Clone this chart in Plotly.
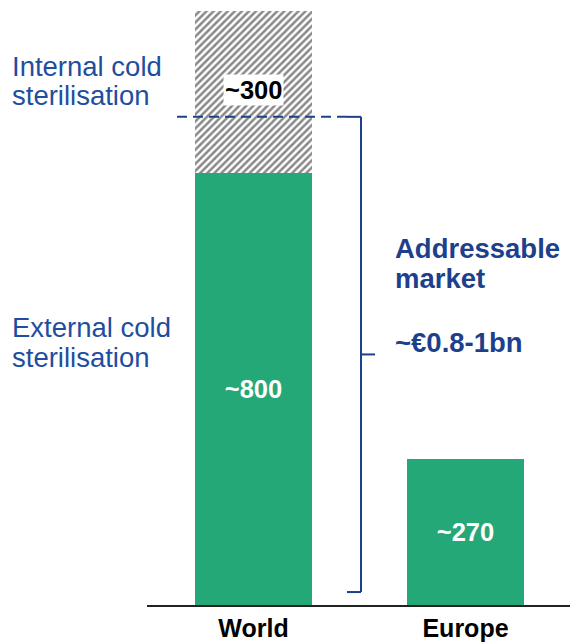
import plotly.graph_objects as go

# Market size (EUR m)
regions = ["World", "Europe"]
external_cold = [800, 270]
internal_cold = [300, None]
external_labels = ["~800", "~270"]
internal_labels = ["~300", ""]

# Addressable-market bracket levels (value axis units)
bracket_top = 904
bracket_bottom = 24

GREEN = "#25A878"
BLUE = "#1D3F8C"
TEXT_BLUE = "#1F4E9E"
FONT = "Liberation Sans, Arial"

# Plot-area geometry in pixels (used to place overlay text in paper coordinates)
W, H = 570, 644
L, B = 147, 39
PW, PH = W - L, H - B


def px(xpix):
    return (xpix - L) / PW


def py(ypix):
    return 1 - ypix / PH


fig = go.Figure()

fig.add_trace(go.Bar(
    x=[0, 1], y=external_cold, width=0.552,
    marker=dict(color=GREEN, line=dict(width=0)),
    text=external_labels, textposition="inside", insidetextanchor="middle",
    textfont=dict(family=FONT, size=25.5, color="white", weight="bold"),
    hoverinfo="skip",
))

fig.add_trace(go.Bar(
    x=[0], y=internal_cold[:1], width=0.552,
    marker=dict(color="white", line=dict(width=0),
                pattern=dict(shape="/", fgcolor="#111111", bgcolor="white",
                             size=5, solidity=0.5)),
    hoverinfo="skip",
))

# "~300" tag on a white box over the hatching
fig.add_annotation(
    x=0, y=external_cold[0] + internal_cold[0] * 0.51, xref="x", yref="y",
    text="<b>" + internal_labels[0] + "</b>", showarrow=False,
    font=dict(family=FONT, size=25.5, color="black"),
    bgcolor="white", borderpad=1,
)

# Dashed separator at the top of the addressable range
fig.add_shape(type="line", xref="paper", yref="y",
              x0=px(177), x1=px(347),
              y0=bracket_top, y1=bracket_top,
              line=dict(color=BLUE, width=2, dash="10px,6px"))

# Bracket
bx = px(361)
hook = 14 / PW
tick = 14 / PW
mid = (bracket_top + bracket_bottom) / 2
bracket_lines = [
    (bx - hook, bracket_top, bx, bracket_top),
    (bx, bracket_top, bx, bracket_bottom),
    (bx - hook, bracket_bottom, bx, bracket_bottom),
    (bx, mid, bx + tick, mid),
]
for x0, y0, x1, y1 in bracket_lines:
    fig.add_shape(type="line", xref="paper", yref="y",
                  x0=x0, x1=x1, y0=y0, y1=y1,
                  line=dict(color=BLUE, width=2))


def text_line(txt, xpix, ypix, color, bold=False, size=27.5):
    fig.add_annotation(
        x=px(xpix), y=py(ypix), xref="paper", yref="paper",
        xanchor="left", yanchor="middle", align="left",
        text=("<b>%s</b>" % txt) if bold else txt, showarrow=False,
        font=dict(family=FONT, size=size, color=color),
    )


# Side labels (one annotation per line for tight line spacing)
text_line("Internal cold", 10, 66, TEXT_BLUE)
text_line("sterilisation", 10, 96, TEXT_BLUE)
text_line("External cold", 10, 327, TEXT_BLUE)
text_line("sterilisation", 10, 357, TEXT_BLUE)

text_line("Addressable", 393, 248, BLUE, bold=True)
text_line("market", 393, 278, BLUE, bold=True)
text_line("~€0.8-1bn", 393, 342, BLUE, bold=True)

fig.update_layout(
    width=W, height=H,
    margin=dict(l=L, r=0, t=0, b=B, autoexpand=False),
    barmode="stack", bargap=0,
    showlegend=False,
    plot_bgcolor="white", paper_bgcolor="white",
    xaxis=dict(
        range=[-106.5 / 212, (PW - 106.5) / 212],
        tickmode="array", tickvals=[0, 1], ticktext=["<b>%s</b>" % r for r in regions],
        tickfont=dict(family=FONT, size=25, color="black"),
        showgrid=False, zeroline=False, automargin=False,
        showline=True, linecolor="#222", linewidth=2, ticks="", ticklen=0,
        ticklabelstandoff=0,
    ),
    yaxis=dict(
        range=[0, PH * 800 / 432], visible=False, showgrid=False, zeroline=False,
        automargin=False,
    ),
)

fig.write_html("out.html")
